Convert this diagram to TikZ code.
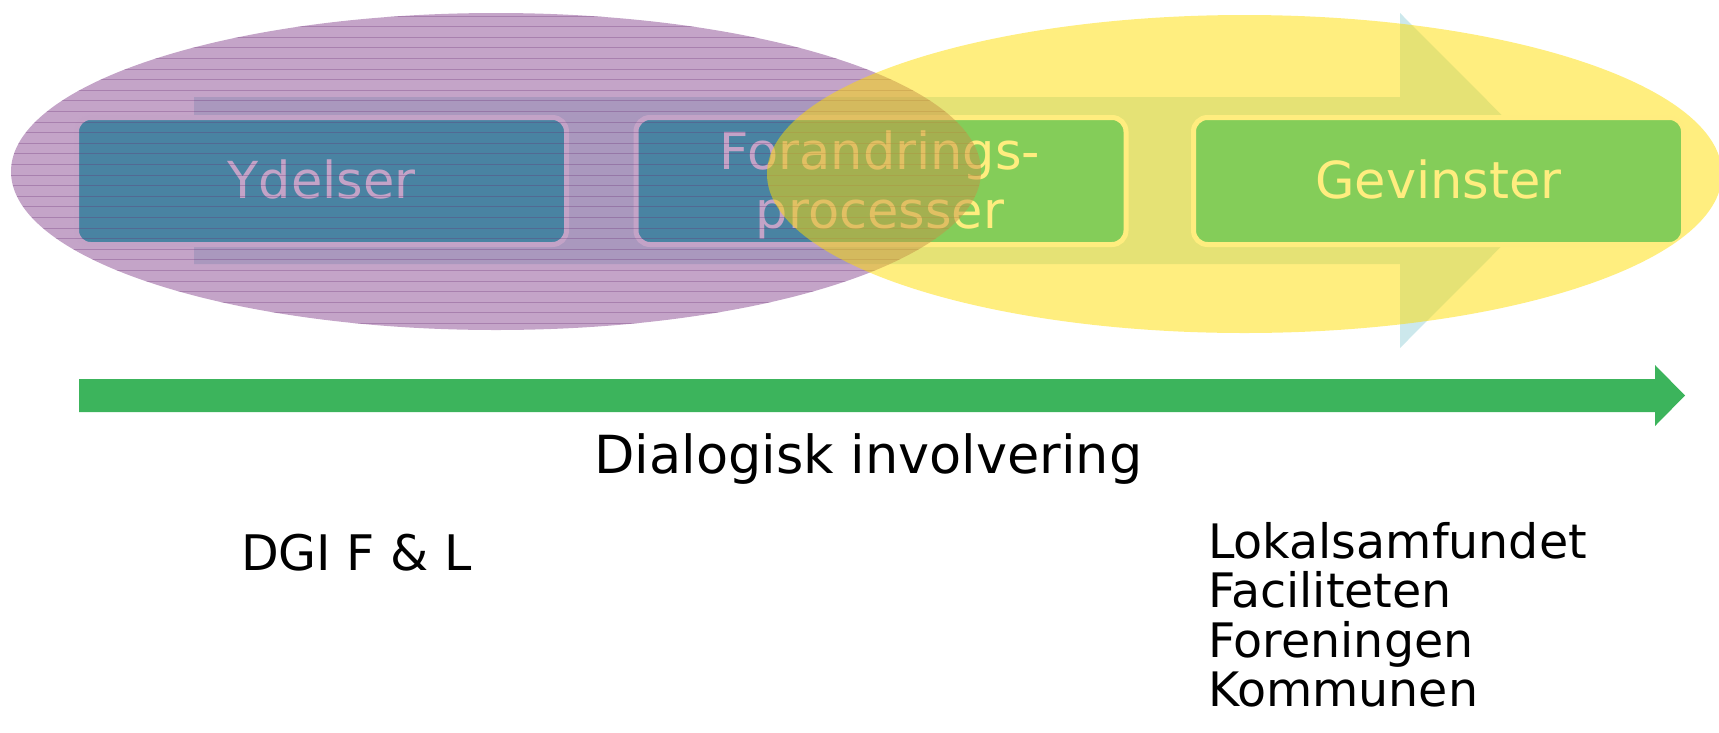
\documentclass[tikz,border=0pt]{standalone}
\usepackage{fontspec}
\setmainfont{DejaVu Sans}
\definecolor{boxfill}{RGB}{10,190,180}
\definecolor{purp}{RGB}{137,73,145}
\definecolor{yell}{RGB}{255,221,0}
\definecolor{arrowcyan}{RGB}{204,232,236}
\definecolor{stripecol}{RGB}{105,45,115}
\definecolor{axisgreen}{RGB}{60,180,92}
\begin{document}
\begin{tikzpicture}[x=1pt,y=-1pt,
  stepbox/.style={draw=white, line width=5pt, fill=boxfill, rounded corners=14pt,
    minimum width=490pt, minimum height=127pt, inner sep=0pt},
  boxtext/.style={text=white, font=\fontsize{51}{59}\selectfont, inner sep=0pt, anchor=base},
  plaintext/.style={text=black, font=\fontsize{47.5}{56}\selectfont, inner sep=0pt, anchor=base west},
]
\useasboundingbox (0,0) rectangle (1719,732);
% big background arrow
\fill[arrowcyan] (194,97) -- (1400,97) -- (1400,13) -- (1567,180.5) -- (1400,348)
  -- (1400,264) -- (194,264) -- cycle;
% boxes
\node[stepbox] (b1) at (321.5,181) {};
\node[stepbox] (b2) at (881,181) {};
\node[stepbox] (b3) at (1438.5,181) {};
\node[boxtext] (t1) at (321.5,198) {Ydelser};
\node[boxtext] (t2a) at (880,169) {Forandrings-};
\node[boxtext] (t2b) at (880,228) {processer};
\node[boxtext] (t3) at (1438.5,198) {Gevinster};
% purple ellipse with stripes
\begin{scope}
  \clip (496,171.5) ellipse [x radius=485pt, y radius=158.5pt];
  \fill[purp, fill opacity=0.5] (0,0) rectangle (1000,340);
  \foreach \k in {0,...,30}
    \draw[stripecol, draw opacity=0.3, line width=1pt] (0,{16+\k*10.6}) -- (1000,{16+\k*10.6});
\end{scope}
% yellow ellipse
\fill[yell, fill opacity=0.5] (1244.5,174) ellipse [x radius=477.5pt, y radius=159pt];
% green arrow
\fill[axisgreen] (79,379) -- (1655,379) -- (1655,365) -- (1685,395.5) -- (1655,426)
  -- (1655,412) -- (79,412) -- cycle;
% texts
\node[text=black, font=\fontsize{52.5}{60}\selectfont, inner sep=0pt, anchor=base] (dia) at (868.5,473) {Dialogisk involvering};
\node[plaintext, font=\fontsize{49}{56}\selectfont] (dgi) at (241,570) {DGI F \& L};
\node[plaintext] (lok) at (1208,558) {Lokalsamfundet};
\node[plaintext] (fac) at (1208,607.5) {Faciliteten};
\node[plaintext] (for) at (1208,657) {Foreningen};
\node[plaintext] (kom) at (1208,706.5) {Kommunen};
\end{tikzpicture}
\end{document}
